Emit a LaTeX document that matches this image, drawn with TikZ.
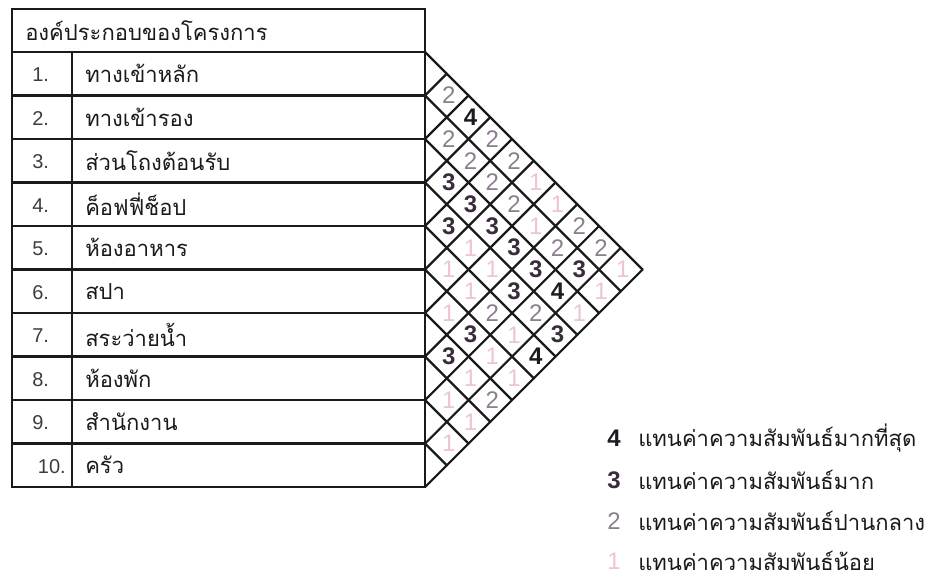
\documentclass[tikz,border=0pt]{standalone}
\usepackage{fontspec}
\setmainfont{Liberation Sans}
\newfontfamily\thai[Script=Thai]{Loma}
\definecolor{cfour}{HTML}{1E1A20}
\definecolor{cthree}{HTML}{3A2C3C}
\definecolor{ctwo}{HTML}{8C7E8E}
\definecolor{cone}{HTML}{EEC4CE}
\definecolor{ink}{HTML}{1A1A1A}
\begin{document}
\begin{tikzpicture}[x=0.75pt,y=-0.75pt,
  tbl/.style={draw=ink,line width=1.7pt},
  gridline/.style={draw=ink,line width=1.6pt},
  lbl/.style={anchor=west,inner sep=0pt,text=ink,font=\thai\fontsize{16.5}{18}\selectfont},
  num/.style={anchor=west,inner sep=0pt,text=ink!85,font=\fontsize{15}{17}\selectfont},
  c4/.style={inner sep=0pt,text=cfour,font=\bfseries\fontsize{18}{20}\selectfont},
  c3/.style={inner sep=0pt,text=cthree,font=\bfseries\fontsize{18}{20}\selectfont},
  c2/.style={inner sep=0pt,text=ctwo,font=\fontsize{18}{20}\selectfont},
  c1/.style={inner sep=0pt,text=cone,font=\fontsize{18}{20}\selectfont},
  legt/.style={anchor=west,inner sep=0pt,text=ink,font=\thai\fontsize{16.5}{18}\selectfont}]
\useasboundingbox (0,0) rectangle (936,582);
\def\h{43.5}
% table
\draw[tbl] (12,9) rectangle (425,487);
\foreach \k in {0,...,9} \draw[tbl] (12,{52+\k*\h}) -- (425,{52+\k*\h});
\draw[tbl] (72,52) -- (72,487);
% diagonal grid
\foreach \k in {0,...,10} {
  \pgfmathsetmacro\bk{52+\k*\h}
  \pgfmathsetmacro\dx{(487-\bk)/2}
  \pgfmathsetmacro\ux{(\bk-52)/2}
  \coordinate (b\k) at (425,\bk);
  \draw[gridline,line cap=round] (b\k) -- ++(\dx,\dx);
  \draw[gridline,line cap=round] (b\k) -- ++(\ux,-\ux);
}
% header
\node[lbl] (head) at (25,31) {องค์ประกอบของโครงการ};
% rows
\foreach \n/\t in {1/ทางเข้าหลัก,2/ทางเข้ารอง,3/ส่วนโถงต้อนรับ,4/ค็อฟฟี่ช็อป,5/ห้องอาหาร,6/สปา,7/สระว่ายน้ำ,8/ห้องพัก,9/สำนักงาน,10/ครัว} {
  \node[lbl] (r\n) at (85,{52+(\n-0.5)*\h}) {\t};
}
\foreach \n in {1,...,9} \node[num] (n\n) at (32,{53+(\n-0.5)*\h}) {\n.};
\node[num,anchor=east] (n10) at (66,{53+9.5*\h}) {10.};
% cells
\foreach \i/\j/\v in {1/2/2,1/3/4,1/4/2,1/5/2,1/6/1,1/7/1,1/8/2,1/9/2,1/10/1,
  2/3/2,2/4/2,2/5/2,2/6/2,2/7/1,2/8/2,2/9/3,2/10/1,
  3/4/3,3/5/3,3/6/3,3/7/3,3/8/3,3/9/4,3/10/1,
  4/5/3,4/6/1,4/7/1,4/8/3,4/9/2,4/10/3,
  5/6/1,5/7/1,5/8/2,5/9/1,5/10/4,
  6/7/1,6/8/3,6/9/1,6/10/1,
  7/8/3,7/9/1,7/10/2,
  8/9/1,8/10/1,
  9/10/1} {
  \node[c\v] (m\i-\j) at ({427+(\j-\i)*\h/2},{52+((\i+\j)/2-0.5)*\h}) {\v};
}
% legend
\node[c4] (k4) at (614,438) {4};
\node[c3] (k3) at (614,480) {3};
\node[c2] (k2) at (614,521) {2};
\node[c1] (k1) at (614,561) {1};
\node[legt] (t4) at (638,438) {แทนค่าความสัมพันธ์มากที่สุด};
\node[legt] (t3) at (638,480) {แทนค่าความสัมพันธ์มาก};
\node[legt] (t2) at (638,521) {แทนค่าความสัมพันธ์ปานกลาง};
\node[legt] (t1) at (638,561) {แทนค่าความสัมพันธ์น้อย};
\end{tikzpicture}
\end{document}
